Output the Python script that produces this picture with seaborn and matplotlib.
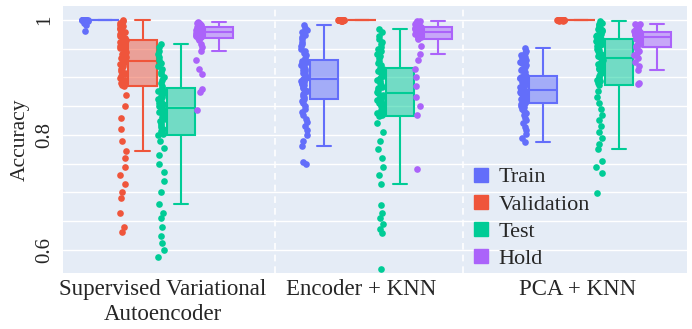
import numpy as np
import pandas as pd
import matplotlib
matplotlib.use('Agg')
import matplotlib.pyplot as plt
import seaborn as sns
from matplotlib.colors import to_rgba
from matplotlib.lines import Line2D

# Data (accuracy per run)
methods = ['Supervised Variational\nAutoencoder', 'Encoder + KNN', 'PCA + KNN']
splits = ['Train', 'Validation', 'Test', 'Hold']
colors = ['#636EFA', '#EF553B', '#00CC96', '#AB63FA']

vae_train = [0.981, 0.99, 0.994, 0.996, 0.998, 0.999] + [1.0] * 19
vae_val = [0.631, 0.64, 0.664, 0.69, 0.70, 0.715, 0.73, 0.745, 0.76,
           0.772, 0.79, 0.81, 0.83, 0.85, 0.87, 0.885,
           0.887, 0.89, 0.893, 0.896, 0.899, 0.902, 0.905, 0.908, 0.911, 0.914, 0.917, 0.92, 0.923, 0.926,
           0.929,
           0.931, 0.934, 0.936, 0.939, 0.941, 0.944, 0.946, 0.949, 0.951, 0.954, 0.956, 0.958, 0.960, 0.962,
           0.964,
           0.966, 0.969, 0.971, 0.974, 0.976, 0.979, 0.981, 0.984, 0.986, 0.989, 0.991, 0.994, 0.996, 0.998, 1.0]
vae_test = [0.588, 0.60, 0.612, 0.625, 0.64, 0.655, 0.665,
            0.68, 0.70, 0.72, 0.735, 0.75, 0.765, 0.778, 0.79, 0.799,
            0.802, 0.806, 0.81, 0.813, 0.817, 0.82, 0.824, 0.828, 0.831, 0.834, 0.837, 0.84, 0.842, 0.844,
            0.846,
            0.848, 0.85, 0.853, 0.855, 0.858, 0.86, 0.863, 0.865, 0.868, 0.870, 0.873, 0.875, 0.877, 0.879,
            0.881,
            0.885, 0.89, 0.895, 0.90, 0.905, 0.91, 0.915, 0.92, 0.925, 0.93, 0.935, 0.94, 0.945, 0.952, 0.958]
vae_hold = [0.843, 0.874, 0.88, 0.905, 0.915, 0.93,
            0.945, 0.952, 0.958, 0.964, 0.969,
            0.97, 0.971, 0.972, 0.973, 0.974, 0.975, 0.976, 0.977, 0.978, 0.979,
            0.98, 0.981, 0.982, 0.983, 0.984, 0.984, 0.985, 0.986, 0.986, 0.987,
            0.988, 0.989, 0.99, 0.99, 0.991, 0.992, 0.993, 0.994, 0.995, 0.996]

enc_train = [0.749, 0.753,
             0.781, 0.79, 0.80, 0.808, 0.815, 0.822, 0.828, 0.834, 0.84, 0.845, 0.85, 0.855, 0.859, 0.862,
             0.865, 0.868, 0.871, 0.873, 0.876, 0.878, 0.881, 0.883, 0.886, 0.888, 0.89, 0.892, 0.894, 0.896,
             0.897,
             0.899, 0.901, 0.903, 0.906, 0.908, 0.911, 0.913, 0.915, 0.918, 0.92, 0.922, 0.925, 0.927, 0.929,
             0.930,
             0.934, 0.938, 0.942, 0.946, 0.95, 0.954, 0.958, 0.962, 0.966, 0.97, 0.974, 0.978, 0.982, 0.986, 0.99]
enc_val = [0.997, 0.998, 0.998, 0.999, 0.999] + [1.0] * 20
enc_test = [0.567, 0.629, 0.636, 0.645, 0.655, 0.664, 0.678,
            0.714, 0.73, 0.745, 0.76, 0.775, 0.79, 0.805, 0.82, 0.832,
            0.835, 0.838, 0.841, 0.844, 0.847, 0.85, 0.853, 0.855, 0.858, 0.861, 0.863, 0.866, 0.868, 0.870,
            0.872,
            0.875, 0.878, 0.881, 0.884, 0.887, 0.89, 0.893, 0.896, 0.899, 0.902, 0.905, 0.908, 0.911, 0.914,
            0.917,
            0.921, 0.925, 0.929, 0.933, 0.937, 0.941, 0.945, 0.949, 0.953, 0.957, 0.962, 0.967, 0.972, 0.978, 0.984]
enc_hold = [0.741, 0.834, 0.85, 0.865, 0.885, 0.90, 0.915, 0.93,
            0.941, 0.955, 0.967,
            0.969, 0.97, 0.972, 0.973, 0.974, 0.975, 0.976, 0.977, 0.978, 0.979,
            0.98, 0.981, 0.982, 0.983, 0.983, 0.984, 0.985, 0.986, 0.986, 0.987,
            0.988, 0.989, 0.99, 0.991, 0.992, 0.993, 0.994, 0.995, 0.997, 0.998]

pca_train = [0.788, 0.795, 0.802, 0.808, 0.814, 0.82, 0.825, 0.83, 0.834, 0.838, 0.842, 0.845, 0.848, 0.851, 0.853,
             0.855,
             0.857, 0.858, 0.86, 0.861, 0.863, 0.864, 0.866, 0.867, 0.869, 0.87, 0.872, 0.873, 0.875, 0.876,
             0.878,
             0.879, 0.881, 0.883, 0.884, 0.886, 0.888, 0.889, 0.891, 0.893, 0.894, 0.896, 0.898, 0.899, 0.901,
             0.903,
             0.906, 0.909, 0.912, 0.915, 0.918, 0.921, 0.924, 0.927, 0.93, 0.933, 0.936, 0.939, 0.942, 0.946, 0.951]
pca_val = [0.997, 0.998, 0.999, 0.999] + [1.0] * 21
pca_test = [0.699, 0.733, 0.745, 0.755,
            0.775, 0.785, 0.795, 0.805, 0.815, 0.825, 0.835, 0.845, 0.855, 0.865, 0.876, 0.887,
            0.89, 0.893, 0.896, 0.899, 0.902, 0.905, 0.908, 0.911, 0.914, 0.917, 0.92, 0.923, 0.926, 0.93,
            0.933,
            0.935, 0.937, 0.939, 0.941, 0.943, 0.945, 0.948, 0.95, 0.952, 0.954, 0.956, 0.958, 0.961, 0.963,
            0.966,
            0.968, 0.97, 0.972, 0.974, 0.976, 0.978, 0.98, 0.982, 0.984, 0.986, 0.988, 0.99, 0.993, 0.995, 0.998]
pca_hold = [0.888, 0.89,
            0.913, 0.92, 0.927, 0.933, 0.938, 0.942, 0.946, 0.949, 0.952,
            0.954, 0.956, 0.958, 0.96, 0.962, 0.963, 0.965, 0.967, 0.968, 0.970,
            0.971, 0.972, 0.973, 0.974, 0.975, 0.976, 0.977, 0.977, 0.978, 0.979,
            0.98, 0.981, 0.982, 0.984, 0.985, 0.987, 0.988, 0.99, 0.992, 0.993]

results = {
    (0, 'Train'): vae_train, (0, 'Validation'): vae_val, (0, 'Test'): vae_test, (0, 'Hold'): vae_hold,
    (1, 'Train'): enc_train, (1, 'Validation'): enc_val, (1, 'Test'): enc_test, (1, 'Hold'): enc_hold,
    (2, 'Train'): pca_train, (2, 'Validation'): pca_val, (2, 'Test'): pca_test, (2, 'Hold'): pca_hold,
}

rows = []
for (m, s), vals in results.items():
    for v in vals:
        rows.append({'method': m, 'split': s, 'acc': v})
df = pd.DataFrame(rows)

# layout of the boxes inside each method group
box_offsets = {'Train': -0.237, 'Validation': -0.066, 'Test': 0.110, 'Hold': 0.283}
point_shift = -0.091

sns.set_theme(style='darkgrid', rc={'axes.facecolor': '#E5ECF6', 'grid.color': 'white',
                                    'grid.linewidth': 1.0})
plt.rcParams['font.family'] = ['Liberation Serif', 'DejaVu Serif']

np.random.seed(3)
fig = plt.figure(figsize=(6.92, 3.29), dpi=100)
ax = fig.add_axes([0.091, 0.170, 0.902, 0.812])

for split, c in zip(splits, colors):
    sub = df[df['split'] == split].copy()
    sub['xb'] = sub['method'] + box_offsets[split]
    sub['xp'] = sub['xb'] + point_shift
    sns.boxplot(data=sub, x='xb', y='acc', native_scale=True, orient='x', color=c,
                linecolor=c, linewidth=1.5, width=0.128, showfliers=False,
                boxprops=dict(facecolor=to_rgba(c, 0.5)), ax=ax)
    sns.stripplot(data=sub, x='xp', y='acc', native_scale=True, orient='x', color=c,
                  size=4.8, jitter=0.015, linewidth=0, ax=ax)

for b in [0.539, 1.397]:
    ax.axvline(b, color='white', linestyle=(0, (4, 3)), linewidth=1.2, zorder=0.5)

ax.set_xlim(-0.429, 2.42)
ax.set_ylim(0.56, 1.024)
ax.set_xticks([0.027, 0.93, 1.92])
ax.set_xticklabels(methods, fontsize=16.5, linespacing=1.3)
ax.set_yticks([0.6, 0.8, 1.0])
ax.set_yticklabels(['0.6', '0.8', '1'], fontsize=15, rotation=90, va='center')
ax.set_yticks(np.arange(0.6, 1.01, 0.05), minor=True)
ax.grid(True, which='both', axis='y', color='white', linewidth=1.0)
ax.grid(False, axis='x')
ax.tick_params(axis='x', which='both', length=0, pad=4)
ax.tick_params(axis='y', which='both', length=0, pad=6)
ax.set_xlabel('')
ax.set_ylabel('Accuracy', fontsize=15.5)
for sp in ax.spines.values():
    sp.set_visible(False)

handles = [Line2D([], [], marker='s', linestyle='', markersize=10.5, color=c) for c in colors]
ax.legend(handles, splits, loc='lower left', bbox_to_anchor=(0.62, -0.06), frameon=False,
          fontsize=16, handletextpad=0.3, labelspacing=0.3, handlelength=1.0)

fig.savefig('out.png', dpi=100)
